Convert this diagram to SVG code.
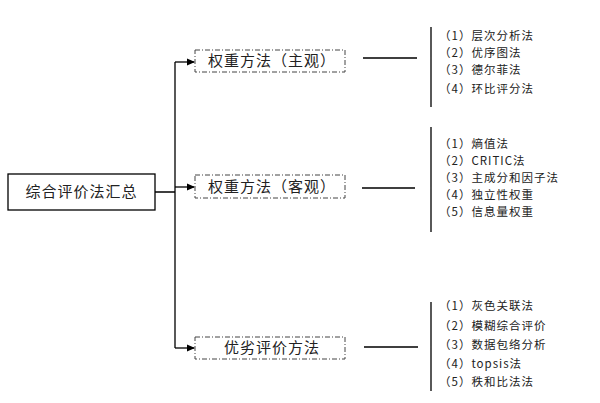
<svg xmlns="http://www.w3.org/2000/svg" width="600" height="403" viewBox="0 0 600 403">
<defs>
<marker id="ar" markerWidth="8" markerHeight="8" refX="7" refY="4" orient="auto" markerUnits="userSpaceOnUse"><path d="M0,0.5 L8,4 L0,7.5 Z" fill="#000"/></marker>
<style>
text{font-family:"Noto Sans CJK SC","DejaVu Sans",sans-serif;fill:#222}
.m{font-size:15px;letter-spacing:1px}
.s{font-size:11.5px;letter-spacing:1px}
.d{fill:none;stroke:#444;stroke-width:1;stroke-dasharray:5,2,1,2}
.l{stroke:#000;stroke-width:1.3;fill:none}
</style>
</defs>
<rect width="600" height="403" fill="#fff"/>
<g id="root"><rect x="8" y="174" width="147" height="36" fill="#fff" stroke="#000" stroke-width="1.3"/><text class="m" x="81.5" y="197" text-anchor="middle">综合评价法汇总</text></g>
<g id="n1"><rect class="d" x="195" y="50" width="150" height="22"/><text class="m" x="272" y="66" text-anchor="middle">权重方法（主观）</text></g>
<g id="n2"><rect class="d" x="195" y="175" width="150" height="23"/><text class="m" x="272" y="192" text-anchor="middle">权重方法（客观）</text></g>
<g id="n3"><rect class="d" x="195" y="337" width="150" height="22"/><text class="m" x="272" y="353" text-anchor="middle">优劣评价方法</text></g>
<g id="connectors">
<path class="l" d="M155,192 H175 M175,62 V348"/>
<path class="l" d="M175,62 H194" marker-end="url(#ar)"/>
<path class="l" d="M175,187 H194" marker-end="url(#ar)"/>
<path class="l" d="M175,348 H194" marker-end="url(#ar)"/>
<path class="l" d="M363,58 H417 M362,188 H415 M364,347 H418 M431,27 V107 M431,127 V232 M431,302 V391"/>
</g>
<g id="list1">
<text class="s" x="439" y="40">（1）层次分析法</text>
<text class="s" x="439" y="57">（2）优序图法</text>
<text class="s" x="439" y="74">（3）德尔菲法</text>
<text class="s" x="439" y="93">（4）环比评分法</text>
</g>
<g id="list2">
<text class="s" x="439" y="148">（1）熵值法</text>
<text class="s" x="439" y="165">（2）CRITIC法</text>
<text class="s" x="439" y="182">（3）主成分和因子法</text>
<text class="s" x="439" y="199">（4）独立性权重</text>
<text class="s" x="439" y="216">（5）信息量权重</text>
</g>
<g id="list3">
<text class="s" x="439" y="310">（1）灰色关联法</text>
<text class="s" x="439" y="330">（2）模糊综合评价</text>
<text class="s" x="439" y="349">（3）数据包络分析</text>
<text class="s" x="439" y="368">（4）topsis法</text>
<text class="s" x="439" y="386">（5）秩和比法法</text>
</g>
</svg>
